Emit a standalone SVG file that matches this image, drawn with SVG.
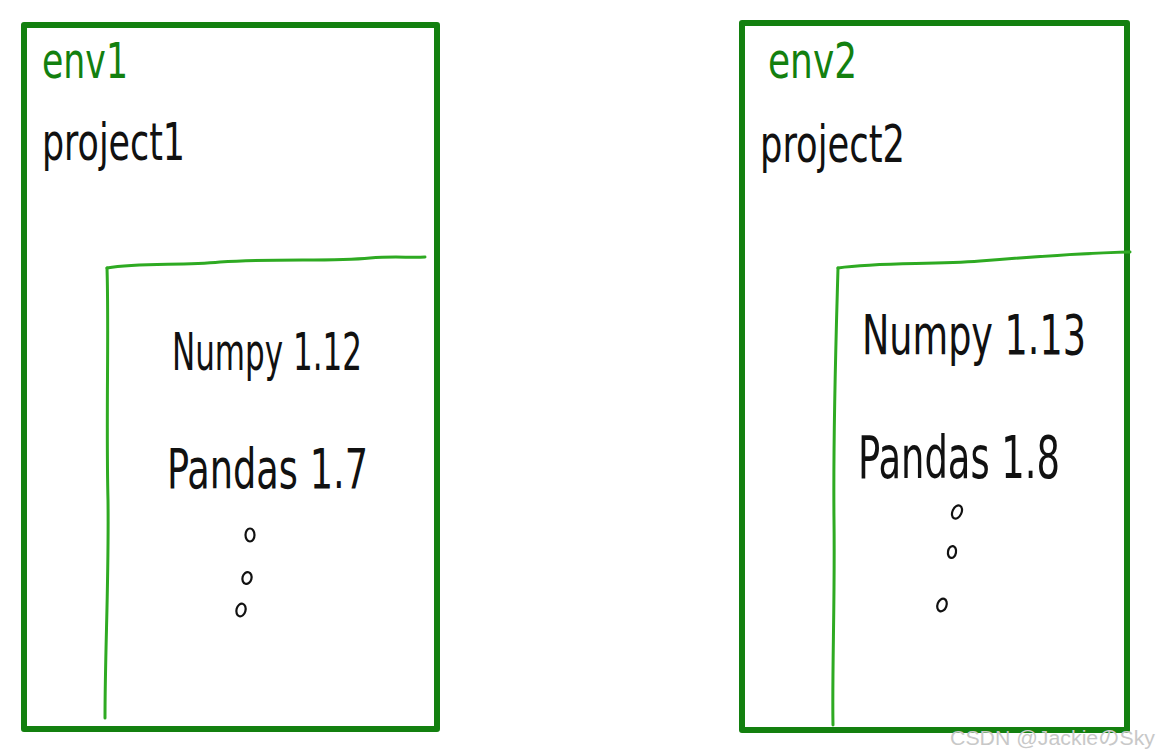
<svg xmlns="http://www.w3.org/2000/svg" width="1159" height="755" viewBox="0 0 1159 755">
<style>
.outer{fill:none;stroke:#13800f;stroke-width:6;stroke-linejoin:round}
.inner{fill:none;stroke:#2eaa22;stroke-width:3;stroke-linecap:round;stroke-linejoin:round}
.hw{font-family:"Liberation Sans Narrow","DejaVu Sans Condensed","Liberation Sans",sans-serif;font-weight:normal}
.lbl{fill:#13800f}
.txt{fill:#111}
.dot{fill:none;stroke:#111;stroke-width:2.2}
.wm{font-family:"Liberation Sans","Noto Sans CJK JP",sans-serif;font-size:20px;fill:#c8c8c8}
</style>
<rect width="1159" height="755" fill="#ffffff"/>
<g id="env1">
<rect class="outer" x="24" y="25" width="413" height="704"/>
<text class="hw lbl" x="42" y="78" font-size="50" textLength="86" lengthAdjust="spacingAndGlyphs">env1</text>
<text class="hw txt" x="42" y="160" font-size="52" textLength="143" lengthAdjust="spacingAndGlyphs">project1</text>
</g>
<g id="packages1">
<path class="inner" d="M107,268 C140,262 180,266 220,262 C280,258 330,262 370,258 C395,256 410,258 425,257"/>
<path class="inner" d="M107,268 C109,330 106,420 108,500 C109,580 105,650 105,718"/>
<text class="hw txt" x="172" y="370" font-size="52" textLength="190" lengthAdjust="spacingAndGlyphs">Numpy 1.12</text>
<text class="hw txt" x="167" y="488" font-size="56" textLength="201" lengthAdjust="spacingAndGlyphs">Pandas 1.7</text>
<ellipse class="dot" cx="250" cy="535" rx="4.5" ry="6.5"/>
<ellipse class="dot" cx="247" cy="578" rx="4.5" ry="6" transform="rotate(15 247 578)"/>
<ellipse class="dot" cx="241" cy="610" rx="4.5" ry="6.5" transform="rotate(15 241 610)"/>
</g>
<g id="env2">
<rect class="outer" x="742" y="23" width="385" height="707"/>
<text class="hw lbl" x="768" y="78" font-size="50" textLength="89" lengthAdjust="spacingAndGlyphs">env2</text>
<text class="hw txt" x="760" y="162" font-size="52" textLength="145" lengthAdjust="spacingAndGlyphs">project2</text>
</g>
<g id="packages2">
<path class="inner" d="M838,268 C880,262 930,265 980,261 C1030,257 1080,253 1130,252"/>
<path class="inner" d="M838,268 C836,340 833,430 834,520 C835,600 832,670 833,725"/>
<text class="hw txt" x="862" y="354" font-size="48" textLength="224" lengthAdjust="spacingAndGlyphs" transform="translate(0,-53) scale(1,1.15)">Numpy 1.13</text>
<text class="hw txt" x="858" y="478" font-size="58" textLength="202" lengthAdjust="spacingAndGlyphs">Pandas 1.8</text>
<ellipse class="dot" cx="957" cy="512" rx="4.5" ry="7" transform="rotate(25 957 512)"/>
<ellipse class="dot" cx="952" cy="552" rx="4" ry="6" transform="rotate(10 952 552)"/>
<ellipse class="dot" cx="942" cy="605" rx="4.5" ry="6.5" transform="rotate(20 942 605)"/>
</g>
<g id="connectors"></g>
<text class="wm" x="950" y="745" textLength="205" lengthAdjust="spacingAndGlyphs">CSDN @JackieのSky</text>
</svg>
